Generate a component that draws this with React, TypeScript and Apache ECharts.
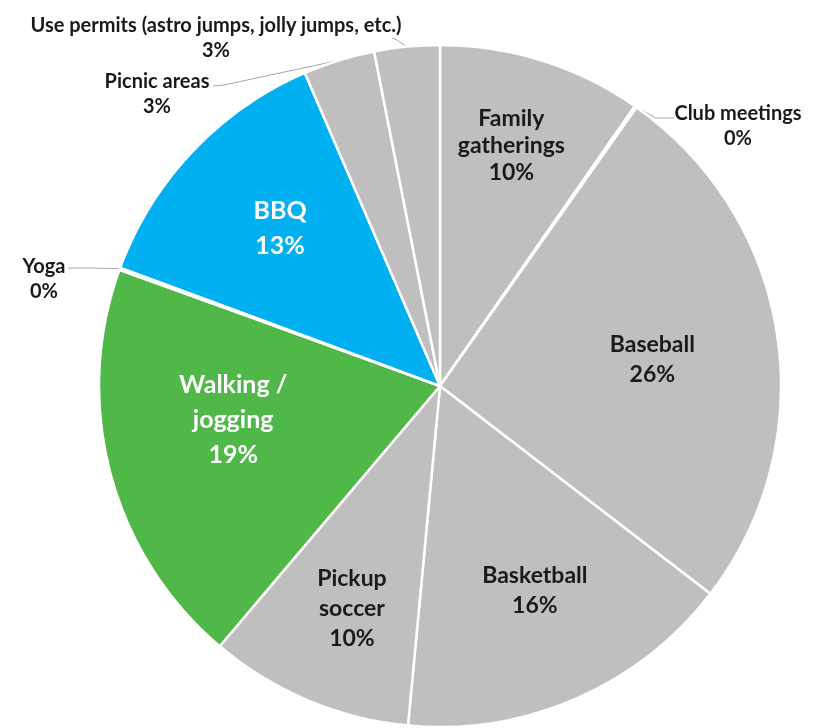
import React, { useEffect, useRef } from "react";
import * as echarts from "echarts";

// ---- data ----
const categories = [
  "Family gatherings",
  "Club meetings",
  "Baseball",
  "Basketball",
  "Pickup soccer",
  "Walking / jogging",
  "Yoga",
  "BBQ",
  "Picnic areas",
  "Use permits (astro jumps, jolly jumps, etc.)",
];
const shares = [9.7, 0.1, 25.7, 16.1, 9.7, 19.4, 0.1, 12.9, 3.4, 3.1];
const wrappedNames = [
  "Family\ngatherings",
  "Club meetings",
  "Baseball",
  "Basketball",
  "Pickup\nsoccer",
  "Walking /\njogging",
  "Yoga",
  "BBQ",
  "Picnic areas",
  "Use permits (astro jumps, jolly jumps, etc.)",
];
const outsideNames = ["Club meetings", "Yoga", "Picnic areas", "Use permits (astro jumps, jolly jumps, etc.)"];
const highlighted: Record<string, string> = { BBQ: "#00B0F0", "Walking / jogging": "#50B848" };

const GRAY = "#BFBFBF";
const FONT = "Lato, 'Open Sans', sans-serif";

export default function App() {
  const ref = useRef<HTMLDivElement>(null);
  useEffect(() => {
    if (!ref.current) return;
    const chart = echarts.init(ref.current, null, { renderer: "svg" });
    const cx = 440, cy = 386, R = 341;

    const fmt = (p: any) => wrappedNames[p.dataIndex] + "\n" + Math.round(p.percent) + "%";

    const baseData = categories.map((name, i) => {
      const isOut = outsideNames.includes(name);
      return {
        name,
        value: shares[i],
        itemStyle: { color: highlighted[name] || GRAY },
        label: { show: isOut },
        labelLine: { show: isOut },
      };
    });

    const innerData = categories.map((name, i) => {
      const isOut = outsideNames.includes(name);
      const big = !!highlighted[name];
      return {
        name,
        value: shares[i],
        itemStyle: { color: "rgba(0,0,0,0)", borderWidth: 0 },
        label: {
          show: !isOut,
          color: big ? "#FFFFFF" : "#1A1A1A",
          fontSize: big ? 25 : 23,
          lineHeight: big ? 35 : name === "Family gatherings" ? 27 : 30,
        },
      };
    });

    // explicit placement of the outside labels (label centre, leader line bend & end)
    const outsidePlacement: Record<string, { x: number; y: number; bend: number[]; end: number[] }> = {
      "Club meetings": { x: 738, y: 124, bend: [656, 118], end: [674, 118] },
      Yoga: { x: 44, y: 277, bend: [90, 268], end: [68, 268] },
      "Picnic areas": { x: 157, y: 92, bend: [224, 85], end: [213, 86] },
      "Use permits (astro jumps, jolly jumps, etc.)": { x: 216, y: 36, bend: [397, 40], end: [392, 38] },
    };
    // small nudges of the inside labels
    const innerNudge: Record<string, number[]> = {
      "Family gatherings": [-2, -8],
      Baseball: [-30, 9],
      Basketball: [-3, -22],
      "Pickup soccer": [7, -5],
      "Walking / jogging": [30, -31],
      BBQ: [18, 9],
    };

    chart.setOption({
      animation: false,
      series: [
        {
          type: "pie",
          center: [cx, cy],
          radius: [0, R],
          startAngle: 90,
          clockwise: true,
          avoidLabelOverlap: false,
          itemStyle: { borderColor: "#FFFFFF", borderWidth: 2.5 },
          label: {
            position: "outside",
            formatter: fmt,
            fontFamily: FONT,
            fontWeight: "bold",
            fontSize: 20,
            lineHeight: 25,
            color: "#1A1A1A",
            align: "center",
          },
          labelLine: { lineStyle: { color: "#A6A6A6", width: 1 }, length: 20, length2: 20 },
          labelLayout: (params: any) => {
            const name = categories[params.dataIndex];
            const p = outsidePlacement[name];
            if (!p) return {};
            const start = params.labelLinePoints ? params.labelLinePoints[0] : p.bend;
            return {
              x: p.x,
              y: p.y,
              align: "center",
              verticalAlign: "middle",
              labelLinePoints: [start, p.bend, p.end],
            };
          },
          data: baseData,
        },
        {
          type: "pie",
          center: [cx, cy],
          radius: [0, R * 1.42],
          startAngle: 90,
          clockwise: true,
          silent: true,
          avoidLabelOverlap: false,
          label: {
            position: "inside",
            formatter: fmt,
            fontFamily: FONT,
            fontWeight: "bold",
            align: "center",
          },
          labelLine: { show: false },
          labelLayout: (params: any) => {
            const n = innerNudge[categories[params.dataIndex]];
            return n ? { dx: n[0], dy: n[1] } : {};
          },
          data: innerData,
        },
      ],
    });
    return () => chart.dispose();
  }, []);
  return <div ref={ref} style={{ position: "fixed", left: 0, top: 0, width: 821, height: 728 }} />;
}
